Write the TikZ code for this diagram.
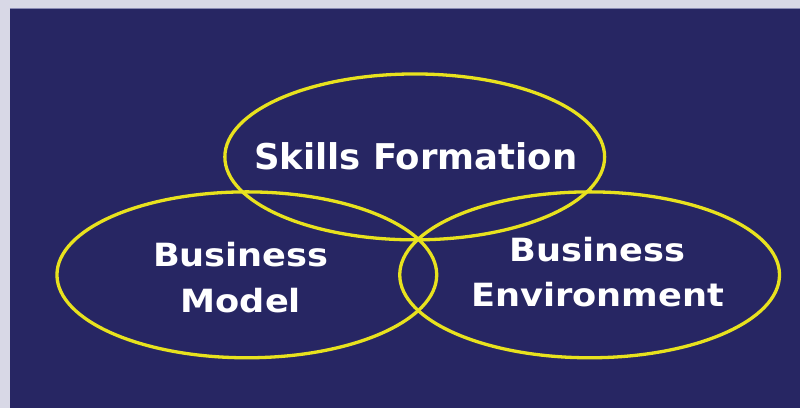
\documentclass[tikz,border=0pt]{standalone}
\usepackage{fontspec}
\setmainfont{DejaVu Sans}
\newfontfamily\lblfont[FakeStretch=1.1]{DejaVu Sans Bold}
\newfontfamily\ttlfont{DejaVu Sans Bold}
\definecolor{frame}{HTML}{D8D8E6}
\definecolor{panel}{HTML}{272663}
\definecolor{panedge}{HTML}{8A8AB4}
\definecolor{ring}{HTML}{E8E21E}
\tikzset{
  ring/.style={draw=ring, line width=3.3pt},
  lbl/.style={text=white, align=center, anchor=base, inner sep=0pt},
}
\begin{document}
\begin{tikzpicture}[x=1pt,y=-1pt]
  % page and dark panel
  \fill[frame] (0,0) rectangle (800,408);
  \fill[panel] (10,8.5) rectangle (800,408);
  \draw[panedge, line width=1pt] (10,8.5) -- (800,8.5);
  % centres of the three sets
  \coordinate (skills) at (415,157);
  \coordinate (model) at (247,275);
  \coordinate (env) at (590,275);
  \draw[ring] (skills) ellipse [x radius=190, y radius=83];
  \draw[ring] (model) ellipse [x radius=190, y radius=83];
  \draw[ring] (env) ellipse [x radius=190, y radius=83];
  % labels (base anchor sits on the last line)
  \node[lbl, font=\ttlfont\fontsize{35.5}{46}\selectfont] (tskills) at (416,170) {Skills Formation};
  \node[lbl, font=\lblfont\fontsize{32}{46}\selectfont] (tmodel) at (241,313) {Business\\Model};
  \node[lbl, font=\lblfont\fontsize{32}{45}\selectfont] (tenv) at (598,307) {Business\\Environment};
\end{tikzpicture}
\end{document}
